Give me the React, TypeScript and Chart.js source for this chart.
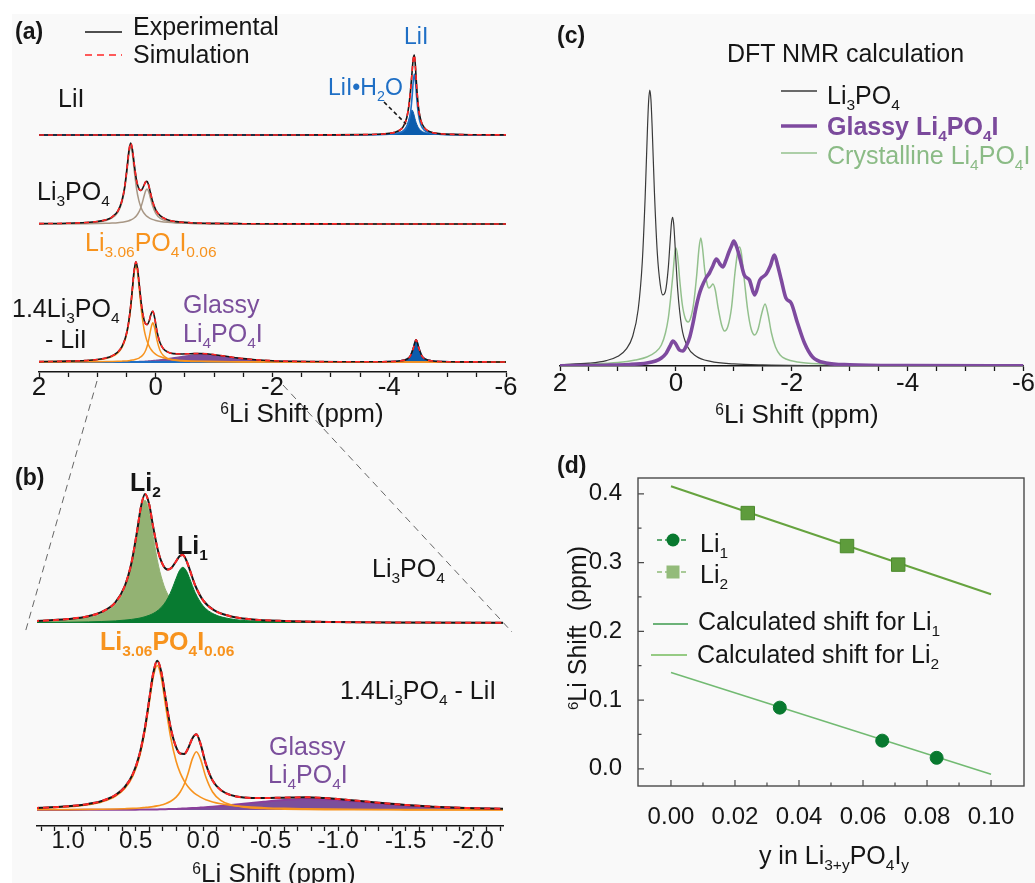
import React, { useEffect, useRef } from 'react';
import { Chart, registerables } from 'chart.js';

Chart.register(...registerables);

const W = 1035;
const H = 883;
const FONT = '"Liberation Sans", Arial, Helvetica, sans-serif';

// ---------------- Panel (a), top trace: LiI ----------------
const liiShift = [2, 0, -2, -3, -3.5, -3.8, -4.0, -4.1, -4.17, -4.24, -4.3, -4.34, -4.37, -4.39, -4.41, -4.43, -4.45, -4.47, -4.5, -4.54, -4.6, -4.7, -4.85, -5.1, -5.5, -6];
const liiSum = [0, 0.02, 0.05, 0.13, 0.33, 0.73, 1.6, 2.7, 4.5, 8.4, 17.3, 30.9, 48.1, 62.2, 75.7, 79.9, 67, 48.1, 27.8, 14.9, 7.4, 3.2, 1.4, 0.58, 0.23, 0.11];
const liiMain = [0, 0.01, 0.03, 0.07, 0.18, 0.38, 0.81, 1.37, 2.2, 3.9, 7.9, 14.4, 25, 37.2, 52.6, 61, 52.6, 37.2, 20.6, 10.4, 4.9, 2.0, 0.85, 0.34, 0.13, 0.06];
const liiHydrate = [0, 0.01, 0.02, 0.06, 0.15, 0.35, 0.78, 1.37, 2.3, 4.5, 9.4, 16.5, 23.1, 25, 23.1, 18.9, 14.4, 10.9, 7.2, 4.5, 2.5, 1.2, 0.57, 0.24, 0.1, 0.05];

// ---------------- Li3PO4 spectrum (panels a and b) ----------------
const lpoShift = [2.0, 1.5, 1.2, 1.0, 0.85, 0.75, 0.65, 0.58, 0.53, 0.49, 0.46, 0.43, 0.40, 0.37, 0.33, 0.29, 0.26, 0.23, 0.2, 0.175, 0.15, 0.125, 0.1, 0.06, 0.0, -0.08, -0.2, -0.35, -0.6, -1.0, -1.5, -2.5, -4, -6];
const lpoSum = [0.59, 1.22, 2.27, 3.96, 6.8, 11.1, 20.6, 37.0, 60.5, 91.0, 116.4, 129.0, 118.9, 96.1, 70.0, 56.3, 53.4, 55.8, 61.8, 66.8, 67.9, 62.8, 53.6, 38.0, 22.6, 12.85, 6.8, 3.8, 1.97, 0.94, 0.48, 0.2, 0.08, 0.05];
const lpoLi2 = [0.43, 0.92, 1.77, 3.2, 5.7, 9.6, 18.5, 34.1, 56.9, 86.6, 111.2, 122.7, 111.2, 86.6, 56.9, 37.5, 28.2, 21.8, 17.2, 14.4, 12.2, 10.4, 9.0, 7.3, 5.5, 3.95, 2.6, 1.7, 1.0, 0.52, 0.28, 0.12, 0.05, 0.03];
const lpoLi1 = [0.16, 0.3, 0.5, 0.76, 1.1, 1.5, 2.1, 2.9, 3.6, 4.4, 5.2, 6.3, 7.7, 9.5, 13.1, 18.8, 25.2, 34, 44.6, 52.4, 55.7, 52.4, 44.6, 30.7, 17.1, 8.9, 4.2, 2.1, 0.97, 0.42, 0.2, 0.08, 0.03, 0.02];

// ---------------- 1.4Li3PO4 - LiI spectrum (panels a and b) ----------------
const mixShift = [2.0, 1.5, 1.2, 1.0, 0.85, 0.75, 0.65, 0.58, 0.52, 0.47, 0.43, 0.40, 0.37, 0.34, 0.31, 0.28, 0.24, 0.2, 0.17, 0.14, 0.11, 0.08, 0.05, 0.02, -0.02, -0.07, -0.13, -0.2, -0.3, -0.45, -0.6, -0.76, -0.9, -1.1, -1.3, -1.5, -1.7, -2.0, -2.3, -2.7, -3.2, -3.7, -4.0, -4.2, -4.3, -4.36, -4.41, -4.46, -4.51, -4.56, -4.62, -4.72, -4.9, -5.3, -6];
const mixSum = [0.6, 1.25, 2.25, 3.7, 6.1, 9.05, 14.85, 23, 36.05, 56.2, 82.75, 109.6, 136.45, 149.2, 138.2, 113.3, 82.05, 62.8, 56.4, 56.1, 62, 71.6, 75.7, 66.4, 46.1, 29.4, 19.9, 15.1, 12.5, 11.96, 12.37, 12.77, 11.95, 9.78, 7.23, 4.98, 3.37, 1.85, 1.09, 0.65, 0.38, 0.37, 0.66, 1.79, 4.19, 8.79, 19.6, 33.1, 19.6, 8.8, 4.2, 1.8, 0.67, 0.22, 0.08];
const mixMain = [0.52, 1.07, 1.92, 3.2, 5.35, 8.1, 13.6, 21.4, 34.1, 53.8, 79.8, 106.2, 132.5, 144.5, 132.5, 106.2, 72.3, 48.8, 37.1, 28.9, 23.0, 18.6, 15.3, 12.9, 10.3, 8.1, 6.3, 4.8, 3.4, 2.3, 1.6, 1.2, 0.94, 0.7, 0.53, 0.42, 0.35, 0.26, 0.2, 0.16, 0.12, 0.09, 0.08, 0.07, 0.07, 0.07, 0.07, 0.07, 0.06, 0.06, 0.06, 0.06, 0.05, 0.04, 0.03];
const mixSecond = [0.1, 0.18, 0.28, 0.41, 0.58, 0.75, 1.0, 1.3, 1.6, 2.0, 2.5, 2.9, 3.4, 4.1, 5.0, 6.3, 8.8, 12.9, 18.0, 25.7, 37.3, 51.1, 58.3, 51.1, 33.0, 18.0, 9.6, 5.4, 2.9, 1.46, 0.87, 0.57, 0.41, 0.28, 0.2, 0.16, 0.12, 0.09, 0.07, 0.05, 0.04, 0.03, 0.03, 0.03, 0.03, 0.03, 0.03, 0.03, 0.03, 0.03, 0.02, 0.02, 0.02, 0.02, 0.01];
const mixGlassy = [0, 0, 0.05, 0.1, 0.15, 0.2, 0.25, 0.3, 0.35, 0.4, 0.45, 0.5, 0.55, 0.6, 0.7, 0.8, 0.95, 1.1, 1.3, 1.5, 1.7, 1.9, 2.1, 2.4, 2.8, 3.3, 4.0, 4.9, 6.2, 8.2, 9.9, 11, 10.6, 8.8, 6.5, 4.4, 2.9, 1.5, 0.8, 0.4, 0.15, 0.05, 0, 0, 0, 0, 0, 0, 0, 0, 0, 0, 0, 0, 0];
const mixLiI = [0, 0, 0, 0, 0, 0, 0, 0, 0, 0, 0, 0, 0, 0, 0, 0, 0, 0, 0, 0, 0, 0, 0, 0, 0, 0, 0, 0, 0, 0, 0, 0, 0, 0, 0, 0, 0, 0.02, 0.03, 0.04, 0.07, 0.2, 0.55, 1.7, 4.1, 8.7, 19.5, 33, 19.5, 8.7, 4.1, 1.7, 0.6, 0.17, 0.05];

// ---------------- Panel (c): DFT NMR calculation ----------------
const dftLpoShift = [2.0, 1.5, 1.2, 1.0, 0.85, 0.75, 0.65, 0.58, 0.53, 0.49, 0.47, 0.45, 0.43, 0.41, 0.37, 0.32, 0.27, 0.227, 0.18, 0.13, 0.1, 0.075, 0.055, 0.035, 0.01, -0.03, -0.1, -0.2, -0.35, -0.6, -1, -1.5, -2.5, -4, -6];
const dftLpo = [1.35, 2.86, 5.43, 9.66, 17.4, 29, 56.7, 103.8, 168.8, 237.6, 265, 275.9, 266.2, 239.9, 173.7, 112.7, 81.6, 71.1, 74.6, 98.6, 123.9, 143.5, 148.6, 140.5, 116.8, 77.5, 39.2, 19.5, 9.8, 4.6, 2.16, 1.1, 0.45, 0.18, 0.09];
const dftCrysShift = [2.0, 1.5, 1.0, 0.7, 0.5, 0.35, 0.25, 0.18, 0.13, 0.09, 0.05, 0.02, 0.0, -0.03, -0.07, -0.11, -0.16, -0.21, -0.26, -0.31, -0.36, -0.40, -0.43, -0.46, -0.50, -0.54, -0.57, -0.61, -0.64, -0.68, -0.73, -0.79, -0.84, -0.9, -0.96, -1.02, -1.07, -1.1, -1.13, -1.18, -1.24, -1.3, -1.36, -1.42, -1.48, -1.54, -1.59, -1.65, -1.72, -1.8, -1.9, -2.1, -2.5, -3.5, -6];
const dftCrys = [1.2, 2, 3.5, 6, 9, 14, 21, 33, 48, 68, 92, 112, 118, 110, 84, 62, 48, 44, 49, 64, 91, 118, 128, 118, 95, 82, 78, 80, 82, 76, 58, 41, 35, 40, 58, 93, 115, 119, 113, 87, 56, 37, 31, 37, 52, 62, 52, 33, 19, 11, 7, 4, 2, 0.7, 0.2];
const dftGlassShift = [2.0, 1.2, 0.8, 0.5, 0.35, 0.25, 0.17, 0.1, 0.05, 0.0, -0.06, -0.12, -0.18, -0.24, -0.3, -0.35, -0.4, -0.44, -0.52, -0.58, -0.63, -0.7, -0.76, -0.81, -0.86, -0.91, -0.96, -1.0, -1.05, -1.1, -1.18, -1.27, -1.36, -1.45, -1.56, -1.63, -1.7, -1.76, -1.82, -1.9, -1.99, -2.1, -2.22, -2.36, -2.59, -3.0, -4.0, -6.0];
const dftGlass = [0.3, 0.8, 1.5, 3, 5, 8, 12.5, 20, 25, 22, 16, 15, 20, 29, 44, 59, 71, 78, 88, 93, 99, 107, 102, 99, 105, 113, 120, 125, 119, 109, 91, 86, 71, 86, 92, 100, 111, 100, 86, 68, 63, 43, 23, 9, 3, 1.2, 0.4, 0.1];

// ---------------- Panel (d): shift vs composition ----------------
const yLi1 = [0.034, 0.066, 0.083];
const shiftLi1 = [0.089, 0.041, 0.016];
const yLi2 = [0.024, 0.055, 0.071];
const shiftLi2 = [0.372, 0.324, 0.297];
const calcY = [0, 0.1];
const calcLi1 = [0.14, -0.008];
const calcLi2 = [0.411, 0.254];

// ---------------- colours ----------------
const BLACK = '#161616';
const RED = '#ff2626';
const BLUE_LINE = '#1f6fc5';
const BLUE_FILL = '#0b5cad';
const TAN = '#a89785';
const ORANGE = '#f7931e';
const PURPLE = '#7b4f9c';
const OLIVE = '#93b273';
const DKGREEN = '#087b31';

type Pt = { x: number; y: number };
const pts = (xs: number[], ys: number[]): Pt[] => xs.map((x, i) => ({ x, y: ys[i] }));

const axisRange = (top: number, bottom: number, base: number, pxPerUnit: number) => ({
  min: -(bottom - base) / pxPerUnit,
  max: (base - top) / pxPerUnit,
});

// evenly spaced tick positions for an axis (from, to inclusive)
const tickList = (from: number, to: number, step: number, reverse = false) => {
  const out: { value: number }[] = [];
  const n = Math.round((to - from) / step);
  for (let k = 0; k <= n; k++) out.push({ value: +(from + k * step).toFixed(6) });
  return reverse ? out.reverse() : out;
};

const hiddenY = (r: { min: number; max: number }) => ({ type: 'linear', position: 'left', display: false, min: r.min, max: r.max });

const lineDs = (data: Pt[], yAxisID: string, color: string, width: number, extra: any = {}) => ({
  data, yAxisID, borderColor: color, backgroundColor: color, borderWidth: width,
  pointRadius: 0, pointHoverRadius: 0, fill: false, cubicInterpolationMode: 'monotone', ...extra,
});

const onStep = (v: number, step: number) => Math.abs(v / step - Math.round(v / step)) < 1e-6;

function spectrumX(min: number, max: number, tFrom: number, tTo: number, step: number, labelStep: number, digits: number, fontSize: number, pad: number, axH: number) {
  return {
    type: 'linear', position: 'bottom', min, max, reverse: true,
    afterBuildTicks: (s: any) => { s.ticks = tickList(tFrom, tTo, step, true); },
    afterFit: (s: any) => { s.height = axH; },
    border: { display: true, color: BLACK, width: 1.6 },
    grid: {
      display: true, drawOnChartArea: false, drawTicks: true, tickLength: 5,
      tickColor: BLACK, tickWidth: 1.3,
    },
    ticks: {
      autoSkip: false, maxRotation: 0, minRotation: 0,
      padding: pad, color: BLACK, font: { family: FONT, size: fontSize, lineHeight: 1 },
      callback: (v: any) => {
        const n = Number(v);
        if (!onStep(n, labelStep)) return '';
        if (Math.abs(n) < 1e-9) return (0).toFixed(digits);
        return n.toFixed(digits);
      },
    },
  };
}

function baseConfig(padding: any, scales: any, datasets: any[], plugins: any[] = []) {
  return {
    type: 'line',
    data: { datasets },
    options: {
      responsive: false, maintainAspectRatio: false, animation: false, devicePixelRatio: 1, events: [],
      layout: { padding },
      plugins: { legend: { display: false }, tooltip: { enabled: false }, title: { display: false } },
      scales,
    },
    plugins,
  } as any;
}

function configA() {
  const A = { l: 39, r: 506, t: 20, b: 372 };
  const axH = 36;
  const datasets = [
    // LiI trace
    lineDs(pts(liiShift, liiSum), 'y1', RED, 1.6, { borderDash: [5, 4] }),
    lineDs(pts(liiShift, liiSum), 'y1', BLACK, 1.6),
    lineDs(pts(liiShift, liiMain), 'y1', BLUE_LINE, 1.6),
    lineDs(pts(liiShift, liiHydrate), 'y1', BLUE_FILL, 1, { fill: 'origin', backgroundColor: BLUE_FILL }),
    // Li3PO4 trace
    lineDs(pts(lpoShift, lpoSum), 'y2', RED, 1.6, { borderDash: [5, 4] }),
    lineDs(pts(lpoShift, lpoSum), 'y2', BLACK, 1.6),
    lineDs(pts(lpoShift, lpoLi2), 'y2', TAN, 1.5),
    lineDs(pts(lpoShift, lpoLi1), 'y2', TAN, 1.5),
    // 1.4Li3PO4-LiI trace
    lineDs(pts(mixShift, mixSum), 'y3', RED, 1.6, { borderDash: [5, 4] }),
    lineDs(pts(mixShift, mixSum), 'y3', BLACK, 1.6),
    lineDs(pts(mixShift, mixMain), 'y3', ORANGE, 1.5),
    lineDs(pts(mixShift, mixSecond), 'y3', ORANGE, 1.5),
    lineDs(pts(mixShift, mixLiI), 'y3', BLUE_LINE, 1.8, { fill: 'origin', backgroundColor: BLUE_FILL }),
    lineDs(pts(mixShift, mixGlassy), 'y3', PURPLE, 1.2, { fill: 'origin', backgroundColor: PURPLE }),
  ];
  const scales = {
    x: spectrumX(-6, 2, -6, 2, 0.5, 2, 0, 26, -2.5, axH),
    y1: hiddenY(axisRange(A.t, A.b, 135, 1)),
    y2: hiddenY(axisRange(A.t, A.b, 224, 81 / 129)),
    y3: hiddenY(axisRange(A.t, A.b, 362, 100 / 149)),
  };
  return baseConfig({ left: A.l, right: W - A.r, top: A.t, bottom: H - A.b - axH }, scales, datasets);
}

function configB() {
  const B = { l: 37, r: 503, t: 470, b: 826 };
  const axH = 34;
  const datasets = [
    lineDs(pts(lpoShift, lpoSum), 'yU', RED, 2, { borderDash: [6, 4] }),
    lineDs(pts(lpoShift, lpoSum), 'yU', BLACK, 2),
    lineDs(pts(lpoShift, lpoLi1), 'yU', DKGREEN, 1, { fill: 'origin', backgroundColor: DKGREEN }),
    lineDs(pts(lpoShift, lpoLi2), 'yU', OLIVE, 1, { fill: 'origin', backgroundColor: OLIVE }),
    lineDs(pts(mixShift, mixSum), 'yL', RED, 2, { borderDash: [6, 4] }),
    lineDs(pts(mixShift, mixSum), 'yL', BLACK, 2),
    lineDs(pts(mixShift, mixMain), 'yL', ORANGE, 1.6),
    lineDs(pts(mixShift, mixSecond), 'yL', ORANGE, 1.6),
    lineDs(pts(mixShift, mixGlassy), 'yL', '#8a3f9a', 2, { fill: 'origin', backgroundColor: PURPLE }),
  ];
  const scales = {
    x: spectrumX(-2.22, 1.23, -2.2, 1.2, 0.1, 0.5, 1, 24, -1.5, axH),
    yU: hiddenY(axisRange(B.t, B.b, 623, 1)),
    yL: hiddenY(axisRange(B.t, B.b, 810, 1)),
  };
  return baseConfig({ left: B.l, right: W - B.r, top: B.t, bottom: H - B.b - axH }, scales, datasets);
}

function configC() {
  const C = { l: 560, r: 1024, t: 60, b: 366 };
  const axH = 36;
  const datasets = [
    lineDs(pts(dftGlassShift, dftGlass), 'y', '#7e4a9f', 3.6),
    lineDs(pts(dftLpoShift, dftLpo), 'y', '#3a3a3a', 1.2),
    lineDs(pts(dftCrysShift, dftCrys), 'y', '#93c08d', 1.5),
  ];
  const scales = {
    x: spectrumX(-6, 2, -6, 2, 0.5, 2, 0, 26, 0, axH),
    y: hiddenY(axisRange(C.t, C.b, 366, 1)),
  };
  return baseConfig({ left: C.l, right: W - C.r, top: C.t, bottom: H - C.b - axH }, scales, datasets);
}

function configD() {
  const D = { l: 638, r: 1024, t: 478, b: 786 };
  const yW = 72;
  const axH = 40;
  const framePlugin = {
    id: 'frameTicks',
    afterDraw(chart: any) {
      const { ctx, chartArea: a, scales } = chart;
      const x = scales.x;
      const y = scales.y;
      ctx.save();
      ctx.strokeStyle = '#4a4a4a';
      ctx.lineWidth = 1.4;
      ctx.strokeRect(a.left, a.top, a.right - a.left, a.bottom - a.top);
      ctx.lineWidth = 1.2;
      ctx.beginPath();
      x.ticks.forEach((t: any) => {
        const px = x.getPixelForValue(t.value);
        const len = onStep(t.value, 0.02) ? 6 : 3.5;
        ctx.moveTo(px, a.bottom);
        ctx.lineTo(px, a.bottom - len);
      });
      y.ticks.forEach((t: any) => {
        const py = y.getPixelForValue(t.value);
        const len = onStep(t.value, 0.1) ? 6 : 3.5;
        ctx.moveTo(a.left, py);
        ctx.lineTo(a.left + len, py);
      });
      ctx.stroke();
      ctx.restore();
    },
  };
  const datasets = [
    { data: pts(yLi1, shiftLi1), showLine: false, pointStyle: 'circle', pointRadius: 6.5, pointBackgroundColor: '#08792f', pointBorderColor: '#08792f', pointBorderWidth: 1 },
    { data: pts(yLi2, shiftLi2), showLine: false, pointStyle: 'rect', pointRadius: 9.5, pointBackgroundColor: '#5e9c3c', pointBorderColor: '#4b8a2c', pointBorderWidth: 1 },
    { data: pts(calcY, calcLi2), borderColor: '#66a33f', borderWidth: 2, pointRadius: 0, fill: false },
    { data: pts(calcY, calcLi1), borderColor: '#72ba72', borderWidth: 1.5, pointRadius: 0, fill: false },
  ];
  const tickFont = { family: FONT, size: 24, lineHeight: 1 };
  const scales = {
    x: {
      type: 'linear', position: 'bottom', min: -0.0103, max: 0.1103,
      afterBuildTicks: (s: any) => { s.ticks = tickList(0, 0.1, 0.01); },
      afterFit: (s: any) => { s.height = axH; },
      grid: { display: false }, border: { display: false },
      ticks: {
        autoSkip: false, maxRotation: 0, minRotation: 0,
        padding: 11, color: BLACK, font: tickFont,
        callback: (v: any) => (onStep(Number(v), 0.02) ? Number(v).toFixed(2) : ''),
      },
    },
    y: {
      type: 'linear', position: 'left', min: -0.025, max: 0.423,
      afterBuildTicks: (s: any) => { s.ticks = tickList(0, 0.4, 0.05); },
      afterFit: (s: any) => { s.width = yW; },
      grid: { display: false }, border: { display: false },
      ticks: {
        autoSkip: false,
        padding: 8, color: BLACK, font: tickFont,
        callback: (v: any) => {
          const n = Number(v);
          if (!onStep(n, 0.1)) return '';
          return Math.abs(n) < 1e-9 ? '0.0' : n.toFixed(1);
        },
      },
    },
  };
  return baseConfig({ left: D.l - yW, right: W - D.r, top: D.t, bottom: H - D.b - axH }, scales, datasets, [framePlugin]);
}

// ---------------- text helpers ----------------
const Sub = ({ children }: any) => (
  <span style={{ fontSize: '0.62em', position: 'relative', top: '0.42em', lineHeight: 0 }}>{children}</span>
);
const Sup = ({ children }: any) => (
  <span style={{ fontSize: '0.6em', position: 'relative', top: '-0.55em', lineHeight: 0 }}>{children}</span>
);

function Txt({ x, y, size = 25, color = BLACK, bold = false, center = false, children }: any) {
  return (
    <div
      style={{
        position: 'absolute', left: x, top: y - size * 0.49, fontSize: size, lineHeight: `${size}px`,
        color, fontWeight: bold ? 700 : 400, whiteSpace: 'nowrap', fontFamily: FONT,
        transform: center ? 'translateX(-50%)' : undefined,
      }}
    >
      {children}
    </div>
  );
}

const shiftTitle = (
  <>
    <Sup>6</Sup>Li Shift (ppm)
  </>
);

export default function App() {
  const refA = useRef<HTMLCanvasElement>(null);
  const refB = useRef<HTMLCanvasElement>(null);
  const refC = useRef<HTMLCanvasElement>(null);
  const refD = useRef<HTMLCanvasElement>(null);

  useEffect(() => {
    const charts: Chart[] = [];
    if (refA.current) charts.push(new Chart(refA.current, configA()));
    if (refB.current) charts.push(new Chart(refB.current, configB()));
    if (refC.current) charts.push(new Chart(refC.current, configC()));
    if (refD.current) charts.push(new Chart(refD.current, configD()));
    return () => charts.forEach((c) => c.destroy());
  }, []);

  const cv: React.CSSProperties = { position: 'absolute', left: 0, top: 0, width: W, height: H };

  return (
    <div style={{ position: 'absolute', left: 0, top: 0, width: W, height: H, background: '#ffffff', overflow: 'hidden', fontFamily: FONT }}>
      <div style={{ position: 'absolute', left: 12, top: 14, right: 0, bottom: 0, background: '#f9f9f9' }} />
      <svg width={W} height={H} style={{ position: 'absolute', left: 0, top: 0 }}>
        <line x1={97} y1={381} x2={25} y2={633} stroke="#666" strokeWidth={1} strokeDasharray="7 5" />
        <line x1={283} y1={385} x2={512} y2={632} stroke="#666" strokeWidth={1} strokeDasharray="7 5" />
      </svg>
      <canvas ref={refA} width={W} height={H} style={cv} />
      <canvas ref={refB} width={W} height={H} style={cv} />
      <canvas ref={refC} width={W} height={H} style={cv} />
      <canvas ref={refD} width={W} height={H} style={cv} />
      <svg width={W} height={H} style={{ position: 'absolute', left: 0, top: 0 }}>
        {/* legend (a) */}
        <line x1={85} y1={32} x2={122} y2={32} stroke={BLACK} strokeWidth={1.6} />
        <line x1={85} y1={55} x2={122} y2={55} stroke={RED} strokeWidth={1.6} strokeDasharray="7 5" />
        <line x1={384} y1={102} x2={406} y2={124} stroke={BLACK} strokeWidth={1.6} strokeDasharray="4 3" />
        {/* legend (c) */}
        <line x1={781} y1={91} x2={817} y2={91} stroke="#3a3a3a" strokeWidth={1.3} />
        <line x1={781} y1={126} x2={817} y2={126} stroke="#7e4a9f" strokeWidth={3.6} />
        <line x1={781} y1={153} x2={817} y2={153} stroke="#93c08d" strokeWidth={1.5} />
        {/* legend (d) */}
        <line x1={657} y1={540} x2={689} y2={540} stroke="#2f8f45" strokeWidth={1.5} strokeDasharray="5 3" />
        <circle cx={673} cy={540} r={6.5} fill="#08792f" />
        <line x1={657} y1={572} x2={689} y2={572} stroke="#8fba78" strokeWidth={1.5} strokeDasharray="5 3" />
        <rect x={666.5} y={565.5} width={13} height={13} fill="#93bb7a" />
        <line x1={653} y1={624} x2={688} y2={624} stroke="#3d9a4c" strokeWidth={1.6} />
        <line x1={651} y1={655} x2={687} y2={655} stroke="#74bb5c" strokeWidth={1.6} />
      </svg>

      {/* ---- panel (a) ---- */}
      <Txt x={15} y={31} size={23} bold>(a)</Txt>
      <Txt x={133} y={26}>Experimental</Txt>
      <Txt x={133} y={54}>Simulation</Txt>
      <Txt x={404} y={36} size={23} color={BLUE_LINE}>LiI</Txt>
      <Txt x={328} y={87} size={23} color={BLUE_LINE}>LiI•H<Sub>2</Sub>O</Txt>
      <Txt x={58} y={98}>LiI</Txt>
      <Txt x={37} y={191}>Li<Sub>3</Sub>PO<Sub>4</Sub></Txt>
      <Txt x={85} y={242} color={ORANGE}>Li<Sub>3.06</Sub>PO<Sub>4</Sub>I<Sub>0.06</Sub></Txt>
      <Txt x={12} y={308}>1.4Li<Sub>3</Sub>PO<Sub>4</Sub></Txt>
      <Txt x={45} y={339}>- LiI</Txt>
      <Txt x={183} y={304} color={PURPLE}>Glassy</Txt>
      <Txt x={183} y={333} color={PURPLE}>Li<Sub>4</Sub>PO<Sub>4</Sub>I</Txt>
      <Txt x={302} y={413} size={26} center>{shiftTitle}</Txt>

      {/* ---- panel (b) ---- */}
      <Txt x={15} y={477} size={23} bold>(b)</Txt>
      <Txt x={130} y={482} bold>Li<Sub>2</Sub></Txt>
      <Txt x={177} y={545} bold>Li<Sub>1</Sub></Txt>
      <Txt x={372} y={568}>Li<Sub>3</Sub>PO<Sub>4</Sub></Txt>
      <Txt x={100} y={641} bold color={ORANGE}>Li<Sub>3.06</Sub>PO<Sub>4</Sub>I<Sub>0.06</Sub></Txt>
      <Txt x={340} y={690}>1.4Li<Sub>3</Sub>PO<Sub>4</Sub> - LiI</Txt>
      <Txt x={269} y={746} color={PURPLE}>Glassy</Txt>
      <Txt x={268} y={774} color={PURPLE}>Li<Sub>4</Sub>PO<Sub>4</Sub>I</Txt>
      <Txt x={274} y={873} size={26} center>{shiftTitle}</Txt>

      {/* ---- panel (c) ---- */}
      <Txt x={557} y={35} size={23} bold>(c)</Txt>
      <Txt x={727} y={53}>DFT NMR calculation</Txt>
      <Txt x={827} y={95}>Li<Sub>3</Sub>PO<Sub>4</Sub></Txt>
      <Txt x={827} y={126} bold color="#7b4a9c">Glassy Li<Sub>4</Sub>PO<Sub>4</Sub>I</Txt>
      <Txt x={827} y={155} color="#8bbb86">Crystalline Li<Sub>4</Sub>PO<Sub>4</Sub>I</Txt>
      <Txt x={797} y={414} size={26} center>{shiftTitle}</Txt>

      {/* ---- panel (d) ---- */}
      <Txt x={557} y={465} size={23} bold>(d)</Txt>
      <Txt x={700} y={543}>Li<Sub>1</Sub></Txt>
      <Txt x={700} y={574}>Li<Sub>2</Sub></Txt>
      <Txt x={698} y={621}>Calculated shift for Li<Sub>1</Sub></Txt>
      <Txt x={697} y={654}>Calculated shift for Li<Sub>2</Sub></Txt>
      <div
        style={{
          position: 'absolute', left: 577, top: 628, transform: 'translate(-50%, -50%) rotate(-90deg)',
          fontSize: 25, lineHeight: '25px', whiteSpace: 'nowrap', color: BLACK, fontFamily: FONT,
        }}
      >
        <Sup>6</Sup>Li Shift&nbsp; (ppm)
      </div>
      <Txt x={834} y={855} center>
        y in Li<Sub>3+y</Sub>PO<Sub>4</Sub>I<Sub>y</Sub>
      </Txt>
    </div>
  );
}
